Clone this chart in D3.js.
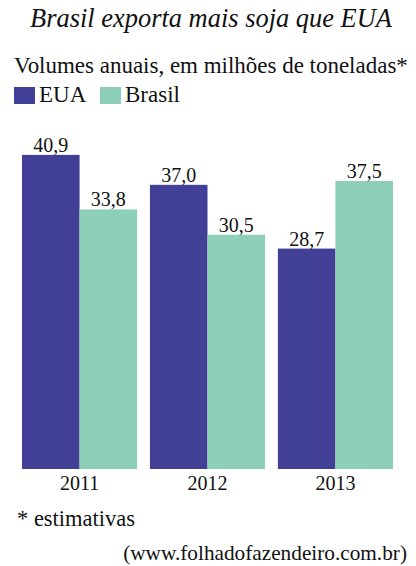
<!DOCTYPE html>
<html>
<head>
<meta charset="utf-8">
<script src="https://cdn.jsdelivr.net/npm/d3@7"></script>
<style>
  body { margin: 0; background: #fff; }
  svg { display: block; }
  text { font-family: "Liberation Serif", "Times New Roman", serif; fill: #111; }
</style>
</head>
<body>
<svg id="chart"></svg>
<script>
const years = ["2011", "2012", "2013"];
const series = ["EUA", "Brasil"];
const eua = [40.9, 37.0, 28.7];
const brasil = [33.8, 30.5, 37.5];

const colors = { "EUA": "#413f96", "Brasil": "#8dcfb8" };

const width = 416;
const height = 566;

const svg = d3.select("svg#chart")
    .attr("width", width)
    .attr("height", height);

const rows = years.map((y, i) => ({ year: y, EUA: eua[i], Brasil: brasil[i] }));

const x0 = d3.scaleBand()
    .domain(years)
    .range([22, 393])
    .paddingInner(0.1)
    .paddingOuter(0);

const x1 = d3.scaleBand()
    .domain(series)
    .range([0, x0.bandwidth()]);

const y = d3.scaleLinear()
    .domain([0, 45])
    .range([469, 469 - 45 * 7.68]);

// shrink/grow a text's font so it spans the wanted width
function fitWidth(sel, w) {
  const node = sel.node();
  const size = parseFloat(sel.style("font-size"));
  const len = node.getComputedTextLength();
  if (len > 0) sel.style("font-size", (size * w / len).toFixed(2) + "px");
}

// title + subtitle
const title = svg.append("text")
    .attr("x", 211)
    .attr("y", 27)
    .attr("text-anchor", "middle")
    .style("font-style", "italic")
    .style("font-size", "24px")
    .text("Brasil exporta mais soja que EUA");
fitWidth(title, 362);

const subtitle = svg.append("text")
    .attr("x", 14)
    .attr("y", 73)
    .style("font-size", "23px")
    .text("Volumes anuais, em milhões de toneladas*");
fitWidth(subtitle, 394);

// legend
const legend = svg.append("g")
    .selectAll("g")
    .data(series)
    .join("g")
    .attr("transform", (d, i) => `translate(${[14, 100][i]},87)`);

legend.append("rect")
    .attr("width", 21)
    .attr("height", 17)
    .attr("fill", d => colors[d]);

legend.append("text")
    .attr("x", 25)
    .attr("y", 15)
    .style("font-size", "23px")
    .text(d => d);

// bars
const group = svg.append("g")
    .selectAll("g")
    .data(rows)
    .join("g")
    .attr("transform", d => `translate(${x0(d.year)},0)`);

const cells = group.selectAll("g")
    .data(d => series.map(s => ({ key: s, value: d[s] })))
    .join("g");

cells.append("rect")
    .attr("x", d => x1(d.key))
    .attr("y", d => y(d.value))
    .attr("width", x1.bandwidth())
    .attr("height", d => y(0) - y(d.value))
    .attr("fill", d => colors[d.key]);

cells.append("text")
    .attr("x", d => x1(d.key) + x1.bandwidth() / 2)
    .attr("y", d => y(d.value) - 3)
    .attr("text-anchor", "middle")
    .style("font-size", "20px")
    .text(d => d3.format(".1f")(d.value).replace(".", ","));

// x axis labels
const xAxis = svg.append("g")
    .attr("transform", `translate(0,${y(0)})`)
    .call(d3.axisBottom(x0).tickSize(0));
xAxis.select(".domain").remove();
xAxis.selectAll("text")
    .attr("y", 21)
    .attr("dy", null)
    .style("font-size", "20px")
    .attr("fill", "#111");

// footer
svg.append("text")
    .attr("x", 17)
    .attr("y", 526)
    .style("font-size", "22.5px")
    .text("* estimativas");

const source = svg.append("text")
    .attr("x", 407)
    .attr("y", 560)
    .attr("text-anchor", "end")
    .style("font-size", "21.5px")
    .text("(www.folhadofazendeiro.com.br)");
fitWidth(source, 284);
</script>
</body>
</html>
